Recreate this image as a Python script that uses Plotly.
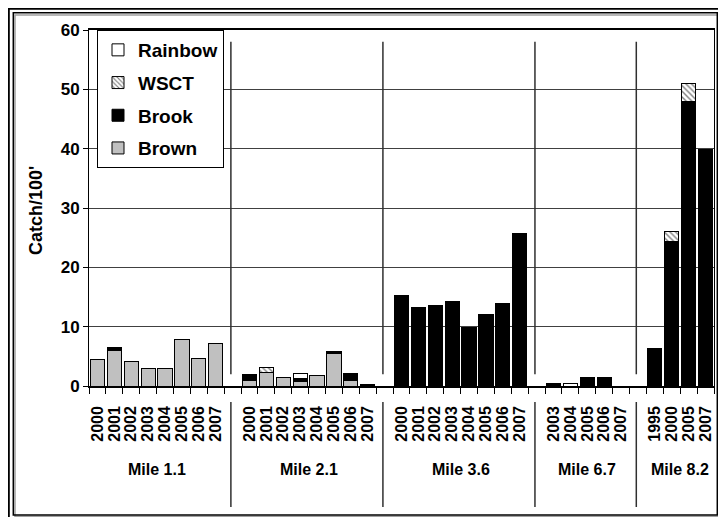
import plotly.graph_objects as go

# ---------------- data ----------------
groups = ["Mile 1.1", "Mile 2.1", "Mile 3.6", "Mile 6.7", "Mile 8.2"]
years = [
    [2000, 2001, 2002, 2003, 2004, 2005, 2006, 2007],
    [2000, 2001, 2002, 2003, 2004, 2005, 2006, 2007],
    [2000, 2001, 2002, 2003, 2004, 2005, 2006, 2007],
    [2003, 2004, 2005, 2006, 2007],
    [1995, 2000, 2005, 2007],
]
brown = [
    [4.4, 6.0, 4.2, 3.0, 3.0, 7.9, 4.6, 7.2],
    [1.0, 2.3, 1.4, 0.8, 1.7, 5.5, 1.0, 0],
    [0, 0.15, 0.15, 0, 0, 0, 0, 0],
    [0, 0, 0, 0, 0],
    [0, 0, 0, 0],
]
brook = [
    [0, 0.5, 0, 0, 0, 0, 0, 0],
    [0.9, 0, 0, 0.5, 0, 0.35, 1.1, 0.3],
    [15.3, 13.15, 13.35, 14.2, 9.9, 12.1, 13.9, 25.7],
    [0.5, 0, 1.5, 1.5, 0],
    [6.3, 24.3, 47.9, 39.8],
]
wsct = [
    [0, 0, 0, 0, 0, 0, 0, 0],
    [0, 0.8, 0, 0, 0, 0, 0, 0],
    [0, 0, 0, 0, 0, 0, 0, 0],
    [0, 0, 0, 0, 0],
    [0, 1.8, 3.1, 0],
]
rainbow = [
    [0, 0, 0, 0, 0, 0, 0, 0],
    [0, 0, 0, 0.8, 0, 0, 0, 0],
    [0, 0, 0, 0, 0, 0, 0, 0],
    [0, 0.5, 0, 0, 0],
    [0, 0, 0, 0],
]

# ------------- layout of slots (one empty slot between groups) -------------
xpos, xtext, gap_pos, group_centers = [], [], [], []
k = 0
for gi, yrs in enumerate(years):
    start = k
    for y in yrs:
        xpos.append(k)
        xtext.append(str(y))
        k += 1
    group_centers.append((start + k - 1) / 2)
    if gi < len(years) - 1:
        gap_pos.append(k)
        k += 1
n_slots = k


def flat(series):
    out = []
    for grp in series:
        out.extend([v if v else None for v in grp])
    return out


FONT = "Liberation Sans, Arial, sans-serif"
OFF = 8  # page body margin
W, H = 726 - OFF, 525 - 2 * OFF
fig = go.Figure()

species = [
    ("Brown", brown, dict(color="#C0C0C0"), 4),
    ("Brook", brook, dict(color="#000000"), 3),
    ("WSCT", wsct, dict(color="#FFFFFF",
                        pattern=dict(shape="\\", fgcolor="#000000", bgcolor="#FFFFFF",
                                     size=4, solidity=0.35)), 2),
    ("Rainbow", rainbow, dict(color="#FFFFFF"), 1),
]
for name, vals, mk, rank in species:
    mk = dict(mk)
    mk["line"] = dict(color="#000000", width=1)
    fig.add_trace(go.Bar(x=xpos, y=flat(vals), name=name, marker=mk,
                         legendgroup=name, legendrank=rank))

# reference-pixel geometry of the plot area
PL, PT, PW, PH = 89, 30, 625, 356


def px2paper(px, py):
    return (px - PL) / PW, (PT + PH - py) / PH

# separators between the sites
shapes = []
for g in gap_pos:
    shapes.append(dict(type="line", xref="x", yref="y", x0=g - 0.1, x1=g - 0.1,
                       y0=2, y1=58, line=dict(color="#303030", width=1.5)))
    shapes.append(dict(type="line", xref="x", yref="paper", x0=g - 0.1, x1=g - 0.1,
                       y0=px2paper(0, 402)[1], y1=px2paper(0, 507)[1],
                       line=dict(color="#303030", width=1.5)))

# frames around the chart
ox0, oy0 = px2paper(OFF + 0.8, OFF + 0.8)
ox1, oy1 = px2paper(800, 600)
shapes.append(dict(type="rect", xref="paper", yref="paper", x0=ox0, y0=oy0, x1=ox1, y1=oy1,
                   line=dict(color="#000000", width=2)))
sx0, sy0 = px2paper(15, 15)
sx1, sy1 = px2paper(719, 516.5)
shapes.append(dict(type="rect", xref="paper", yref="paper", x0=sx0, y0=sy0, x1=sx1, y1=sy1,
                   line=dict(color="#A0A0A0", width=1.5)))
mx0, my0 = px2paper(13.3, 12.7)
mx1, my1 = px2paper(717.3, 515)
shapes.append(dict(type="rect", xref="paper", yref="paper", x0=mx0, y0=my0, x1=mx1, y1=my1,
                   line=dict(color="#000000", width=1.5)))

annotations = []
for name, cx in zip(groups, group_centers):
    annotations.append(dict(x=cx, xref="x", y=px2paper(0, 469)[1], yref="paper",
                            xanchor="center", yanchor="middle",
                            text="<b>%s</b>" % name, showarrow=False,
                            font=dict(family=FONT, size=16, color="#000000")))
tx, ty = px2paper(36, 211)
annotations.append(dict(x=tx, y=ty, xref="paper", yref="paper", text="<b>Catch/100'</b>",
                        xanchor="center", yanchor="middle",
                        textangle=-90, showarrow=False,
                        font=dict(family=FONT, size=18, color="#000000")))

fig.update_layout(
    width=W, height=H,
    margin=dict(l=PL - OFF, r=W - (PL - OFF) - PW, t=PT - OFF, b=H - (PT - OFF) - PH),
    barmode="stack", bargap=0.16,
    plot_bgcolor="#FFFFFF", paper_bgcolor="#FFFFFF",
    font=dict(family=FONT, color="#000000"),
    showlegend=True,
    legend=dict(x=(97 - PL) / PW, y=1, xanchor="left", yanchor="top",
                traceorder="grouped", tracegroupgap=5,
                bgcolor="#FFFFFF", bordercolor="#000000", borderwidth=1,
                font=dict(family=FONT, size=19, color="#000000", weight="bold"),
                itemwidth=30),
    shapes=shapes,
    annotations=annotations,
    xaxis=dict(range=[-0.5, n_slots - 0.5], tickmode="array", tickvals=xpos, ticktext=xtext,
               tickangle=-90, ticks="", ticklabelstandoff=12,
               tickfont=dict(family=FONT, size=16, color="#000000", weight="bold"),
               showgrid=False, zeroline=False,
               showline=True, linecolor="#000000", linewidth=1.5, mirror=True,
               minor=dict(tickmode="linear", tick0=-0.5, dtick=1, ticks="outside",
                          ticklen=6, tickcolor="#000000", tickwidth=1, showgrid=False)),
    yaxis=dict(range=[0, 60], dtick=10, ticks="outside", ticklen=5, tickcolor="#000000",
               tickfont=dict(family=FONT, size=17, color="#000000", weight="bold"),
               showgrid=True, gridcolor="#404040", gridwidth=1, zeroline=False,
               showline=True, linecolor="#000000", linewidth=1, mirror=True),
)

fig.write_html("out.html")
